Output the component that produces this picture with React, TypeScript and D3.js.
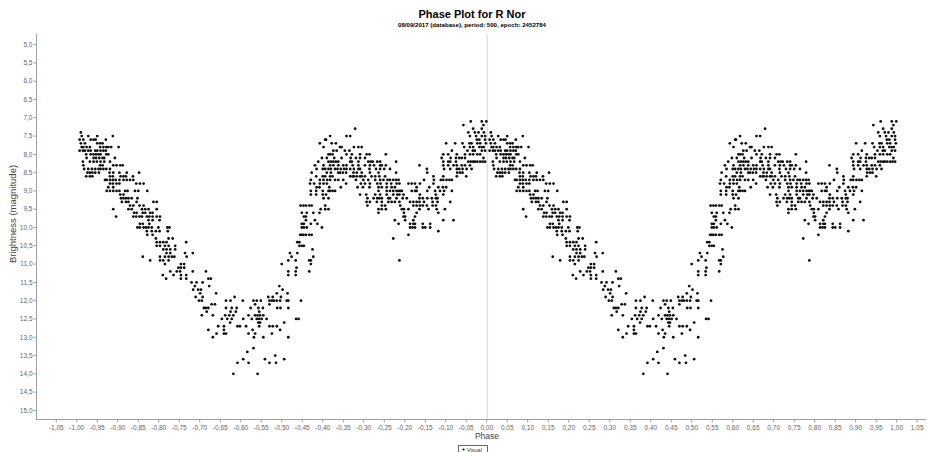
import React from 'react';
import * as d3 from 'd3';

// The phase plot draws every point twice: at its phase and at phase + 1.
const MAGNITUDES = [
  7.1, 7.2, 7.3, 7.4, 7.5, 7.6, 7.7, 7.8, 7.9, 8.0,
  8.1, 8.2, 8.3, 8.4, 8.5, 8.6, 8.7, 8.8, 8.9, 9.0,
  9.1, 9.2, 9.3, 9.4, 9.5, 9.6, 9.7, 9.8, 9.9, 10.0,
  10.1, 10.2, 10.3, 10.4, 10.5, 10.6, 10.7, 10.8, 10.9, 11.0,
  11.1, 11.2, 11.3, 11.4, 11.5, 11.6, 11.7, 11.8, 11.9, 12.0,
  12.1, 12.2, 12.3, 12.4, 12.5, 12.6, 12.7, 12.8, 12.9, 13.0,
  13.3, 13.4, 13.5, 13.6, 13.7, 14.0,
];

const PHASES_BY_MAG: number[][] = [
  /* 7.1 */ [-0.039, -0.012, -0.001],
  /* 7.2 */ [-0.057, -0.008],
  /* 7.3 */ [-0.321, -0.033, -0.012],
  /* 7.4 */ [-0.990, -0.045, -0.029, -0.020, -0.007],
  /* 7.5 */ [-0.988, -0.972, -0.950, -0.912, -0.382, -0.342, -0.333, -0.041, -0.026, -0.012, -0.004],
  /* 7.6 */ [-0.993, -0.984, -0.966, -0.959, -0.954, -0.929, -0.394, -0.392, -0.024, -0.018, -0.004],
  /* 7.7 */ [-0.990, -0.980, -0.950, -0.943, -0.937, -0.407, -0.378, -0.368, -0.099, -0.077, -0.059, -0.042, -0.037, -0.023, -0.016, -0.002],
  /* 7.8 */ [-0.988, -0.984, -0.976, -0.968, -0.943, -0.935, -0.928, -0.923, -0.916, -0.898, -0.398, -0.358, -0.354, -0.324, -0.313, -0.305, -0.055, -0.041, -0.033, -0.018, -0.012, -0.007],
  /* 7.9 */ [-0.993, -0.985, -0.980, -0.972, -0.966, -0.955, -0.950, -0.942, -0.935, -0.929, -0.374, -0.366, -0.346, -0.335, -0.085, -0.047, -0.034, -0.029, -0.012, -0.004],
  /* 8.0 */ [-0.977, -0.966, -0.959, -0.953, -0.947, -0.942, -0.928, -0.923, -0.386, -0.382, -0.376, -0.342, -0.329, -0.309, -0.293, -0.286, -0.246, -0.106, -0.094, -0.073, -0.053, -0.041, -0.033, -0.023, -0.016],
  /* 8.1 */ [-0.976, -0.959, -0.953, -0.945, -0.937, -0.933, -0.907, -0.402, -0.390, -0.372, -0.354, -0.332, -0.319, -0.309, -0.297, -0.110, -0.088, -0.075, -0.067, -0.061, -0.053, -0.008],
  /* 8.2 */ [-0.985, -0.968, -0.959, -0.951, -0.942, -0.933, -0.919, -0.411, -0.386, -0.380, -0.374, -0.368, -0.362, -0.333, -0.329, -0.313, -0.289, -0.283, -0.278, -0.267, -0.260, -0.221, -0.106, -0.094, -0.089, -0.075, -0.045, -0.039, -0.033, -0.029, -0.023, -0.016, -0.010, -0.004],
  /* 8.3 */ [-0.984, -0.943, -0.937, -0.911, -0.903, -0.894, -0.888, -0.419, -0.398, -0.382, -0.374, -0.362, -0.350, -0.342, -0.327, -0.313, -0.297, -0.285, -0.275, -0.260, -0.256, -0.246, -0.164, -0.106, -0.094, -0.081, -0.073, -0.061, -0.053, -0.041],
  /* 8.4 */ [-0.982, -0.972, -0.963, -0.955, -0.947, -0.942, -0.935, -0.928, -0.919, -0.415, -0.400, -0.394, -0.386, -0.380, -0.370, -0.364, -0.356, -0.348, -0.342, -0.333, -0.324, -0.313, -0.309, -0.286, -0.270, -0.260, -0.250, -0.236, -0.146, -0.104, -0.089, -0.073, -0.067, -0.059, -0.049, -0.037],
  /* 8.5 */ [-0.974, -0.968, -0.962, -0.955, -0.946, -0.920, -0.911, -0.896, -0.878, -0.848, -0.427, -0.390, -0.380, -0.362, -0.358, -0.351, -0.343, -0.325, -0.317, -0.305, -0.285, -0.264, -0.221, -0.145, -0.072, -0.065, -0.059],
  /* 8.6 */ [-0.977, -0.968, -0.962, -0.919, -0.912, -0.893, -0.886, -0.880, -0.863, -0.416, -0.400, -0.394, -0.382, -0.376, -0.333, -0.327, -0.324, -0.317, -0.309, -0.305, -0.297, -0.281, -0.272, -0.262, -0.248, -0.130, -0.106, -0.073, -0.050],
  /* 8.7 */ [-0.931, -0.927, -0.919, -0.912, -0.905, -0.896, -0.886, -0.878, -0.870, -0.862, -0.429, -0.407, -0.398, -0.389, -0.382, -0.370, -0.362, -0.350, -0.319, -0.301, -0.289, -0.272, -0.260, -0.252, -0.242, -0.236, -0.228, -0.221, -0.215, -0.153, -0.129, -0.112, -0.106, -0.098, -0.091, -0.085],
  /* 8.8 */ [-0.919, -0.912, -0.903, -0.896, -0.855, -0.846, -0.837, -0.431, -0.421, -0.407, -0.398, -0.390, -0.343, -0.307, -0.297, -0.285, -0.267, -0.259, -0.244, -0.233, -0.220, -0.213, -0.191, -0.183, -0.175, -0.163, -0.130],
  /* 8.9 */ [-0.923, -0.911, -0.415, -0.408, -0.384, -0.356, -0.315, -0.302, -0.286, -0.264, -0.256, -0.244, -0.232, -0.224, -0.171, -0.140, -0.118, -0.107, -0.099],
  /* 9.0 */ [-0.927, -0.919, -0.911, -0.903, -0.896, -0.882, -0.876, -0.858, -0.850, -0.828, -0.429, -0.416, -0.400, -0.386, -0.382, -0.376, -0.370, -0.264, -0.244, -0.236, -0.228, -0.220, -0.215, -0.211, -0.207, -0.183, -0.175, -0.171, -0.145, -0.126, -0.114, -0.104, -0.085],
  /* 9.1 */ [-0.894, -0.886, -0.429, -0.416, -0.400, -0.392, -0.309, -0.294, -0.272, -0.260, -0.244, -0.228, -0.218, -0.213, -0.203, -0.163, -0.124, -0.106],
  /* 9.2 */ [-0.892, -0.886, -0.880, -0.874, -0.866, -0.852, -0.398, -0.386, -0.291, -0.276, -0.267, -0.262, -0.256, -0.240, -0.236, -0.220, -0.205, -0.195, -0.164, -0.156, -0.145, -0.134, -0.124, -0.120],
  /* 9.3 */ [-0.890, -0.880, -0.874, -0.854, -0.813, -0.805, -0.293, -0.285, -0.268, -0.256, -0.240, -0.232, -0.224, -0.213, -0.187, -0.179, -0.171, -0.164, -0.153, -0.132, -0.120, -0.089],
  /* 9.4 */ [-0.870, -0.862, -0.847, -0.837, -0.454, -0.447, -0.441, -0.433, -0.427, -0.394, -0.291, -0.256, -0.248, -0.211, -0.179, -0.171, -0.163, -0.156, -0.146, -0.132, -0.124],
  /* 9.5 */ [-0.911, -0.874, -0.866, -0.841, -0.833, -0.825, -0.805, -0.405, -0.394, -0.386, -0.264, -0.256, -0.246, -0.207, -0.202, -0.191, -0.164, -0.142, -0.122, -0.102],
  /* 9.6 */ [-0.860, -0.854, -0.839, -0.833, -0.821, -0.815, -0.451, -0.439, -0.423, -0.408, -0.264, -0.202, -0.171, -0.118],
  /* 9.7 */ [-0.904, -0.862, -0.855, -0.847, -0.841, -0.829, -0.823, -0.815, -0.805, -0.797, -0.446, -0.441, -0.203, -0.199, -0.175],
  /* 9.8 */ [-0.825, -0.815, -0.798, -0.441, -0.419, -0.224, -0.199, -0.179, -0.106, -0.081],
  /* 9.9 */ [-0.846, -0.839, -0.823, -0.451, -0.446, -0.429, -0.413, -0.215, -0.187, -0.179, -0.175, -0.156, -0.138],
  /* 10.0 */ [-0.852, -0.846, -0.837, -0.831, -0.825, -0.817, -0.801, -0.779, -0.774, -0.451, -0.446, -0.439, -0.402, -0.187, -0.181, -0.175, -0.156, -0.150, -0.138],
  /* 10.1 */ [-0.829, -0.817, -0.807, -0.798, -0.778, -0.118],
  /* 10.2 */ [-0.828, -0.815, -0.455, -0.451, -0.447, -0.441, -0.433, -0.427, -0.191],
  /* 10.3 */ [-0.807, -0.776, -0.766, -0.228],
  /* 10.4 */ [-0.805, -0.797, -0.789, -0.781, -0.733, -0.462, -0.457],
  /* 10.5 */ [-0.805, -0.797, -0.785, -0.776, -0.760, -0.457, -0.451, -0.446],
  /* 10.6 */ [-0.789, -0.781, -0.772, -0.760, -0.425],
  /* 10.7 */ [-0.781, -0.772, -0.736, -0.717, -0.480, -0.462],
  /* 10.8 */ [-0.839, -0.797, -0.785, -0.776, -0.768, -0.762, -0.732, -0.476, -0.423],
  /* 10.9 */ [-0.821, -0.797, -0.789, -0.776, -0.484, -0.466, -0.433, -0.429, -0.213],
  /* 11.0 */ [-0.785, -0.746, -0.738, -0.500, -0.429],
  /* 11.1 */ [-0.752, -0.746, -0.738, -0.464],
  /* 11.2 */ [-0.772, -0.756, -0.748, -0.717, -0.685, -0.484, -0.466, -0.433],
  /* 11.3 */ [-0.790, -0.764, -0.746, -0.733, -0.484, -0.466],
  /* 11.4 */ [-0.782, -0.746, -0.733, -0.679, -0.673],
  /* 11.5 */ [-0.720, -0.708, -0.693],
  /* 11.6 */ [-0.712, -0.677, -0.506],
  /* 11.7 */ [-0.716, -0.704, -0.697, -0.498],
  /* 11.8 */ [-0.699, -0.660, -0.512, -0.486],
  /* 11.9 */ [-0.710, -0.693, -0.615, -0.533, -0.522, -0.502],
  /* 12.0 */ [-0.702, -0.695, -0.636, -0.625, -0.595, -0.569, -0.561, -0.551, -0.530, -0.524, -0.519, -0.512, -0.504, -0.488, -0.484, -0.453],
  /* 12.1 */ [-0.671, -0.663, -0.565, -0.530],
  /* 12.2 */ [-0.690, -0.685, -0.679, -0.636, -0.622, -0.610, -0.576, -0.557, -0.546, -0.511, -0.503, -0.484],
  /* 12.3 */ [-0.683, -0.625, -0.612, -0.555],
  /* 12.4 */ [-0.695, -0.668, -0.638, -0.628, -0.618, -0.581, -0.565, -0.559, -0.553, -0.545],
  /* 12.5 */ [-0.646, -0.633, -0.622, -0.594, -0.573, -0.561, -0.555, -0.549, -0.537, -0.465, -0.459],
  /* 12.6 */ [-0.626, -0.557, -0.553, -0.494],
  /* 12.7 */ [-0.655, -0.641, -0.608, -0.602, -0.587, -0.555, -0.530, -0.522, -0.512],
  /* 12.8 */ [-0.679, -0.641, -0.571, -0.504],
  /* 12.9 */ [-0.659, -0.641, -0.636, -0.581, -0.565, -0.524],
  /* 13.0 */ [-0.668, -0.568, -0.545, -0.484],
  /* 13.3 */ [-0.569],
  /* 13.4 */ [-0.584],
  /* 13.5 */ [-0.516],
  /* 13.6 */ [-0.594, -0.541, -0.494],
  /* 13.7 */ [-0.608, -0.581, -0.530, -0.514],
  /* 14.0 */ [-0.618, -0.559],
];

const X_TICKS = [
  -1.05, -1.0, -0.95, -0.9, -0.85, -0.8, -0.75, -0.7, -0.65, -0.6, -0.55,
  -0.5, -0.45, -0.4, -0.35, -0.3, -0.25, -0.2, -0.15, -0.1, -0.05, 0,
  0.05, 0.1, 0.15, 0.2, 0.25, 0.3, 0.35, 0.4, 0.45, 0.5, 0.55, 0.6,
  0.65, 0.7, 0.75, 0.8, 0.85, 0.9, 0.95, 1.0, 1.05,
];
const Y_TICKS = [
  5.0, 5.5, 6.0, 6.5, 7.0, 7.5, 8.0, 8.5, 9.0, 9.5, 10.0,
  10.5, 11.0, 11.5, 12.0, 12.5, 13.0, 13.5, 14.0, 14.5, 15.0,
];

const W = 928;
const H = 452;
const PLOT = { left: 37, right: 926, top: 34, bottom: 419 };
const FONT = '"Liberation Sans", Arial, sans-serif';

const fmtX = (v: number) => (v < -1e-9 ? '-' : '') + Math.abs(v).toFixed(2).replace('.', ',');
const fmtY = (v: number) => v.toFixed(1).replace('.', ',');

export default function App() {
  const x = d3.scaleLinear().domain([-1.097, 1.0715]).range([PLOT.left, PLOT.right]);
  const y = d3.scaleLinear().domain([4.71, 15.235]).range([PLOT.top, PLOT.bottom]);

  const points = MAGNITUDES.flatMap((mag, i) =>
    PHASES_BY_MAG[i].flatMap((p) => [
      { phase: p, mag },
      { phase: p + 1, mag },
    ])
  );

  const titleX = 472;

  return (
    <div style={{ position: 'fixed', left: 0, top: 0 }}>
      <svg width={W} height={H} style={{ display: 'block', background: '#fff' }} fontFamily={FONT}>
        {/* titles */}
        <text x={titleX} y={18.3} textAnchor="middle" fontSize={11} fontWeight="bold" fill="#000">
          Phase Plot for R Nor
        </text>
        <text
          x={titleX}
          y={26.7}
          textAnchor="middle"
          fontSize={6.2}
          fontWeight="bold"
          fill="#000"
          textLength={148}
          lengthAdjust="spacingAndGlyphs"
        >
          08/09/2017 (database), period: 500, epoch: 2452784
        </text>

        {/* zero phase marker */}
        <line x1={x(0) + 0.5} x2={x(0) + 0.5} y1={PLOT.top} y2={PLOT.bottom} stroke="#d0d0f4" strokeWidth={1} />

        {/* axes */}
        <line x1={PLOT.left - 0.5} x2={PLOT.left - 0.5} y1={PLOT.top} y2={PLOT.bottom + 1} stroke="#a0a0a0" />
        <line x1={PLOT.left - 0.5} x2={PLOT.right} y1={PLOT.bottom + 0.5} y2={PLOT.bottom + 0.5} stroke="#a0a0a0" />

        {Y_TICKS.map((t) => (
          <g key={`y${t}`} transform={`translate(0,${y(t)})`}>
            <line x1={PLOT.left - 3.5} x2={PLOT.left - 0.5} stroke="#a0a0a0" />
            <text x={PLOT.left - 4.5} dy="0.35em" textAnchor="end" fontSize={6.5} fill="#666">
              {fmtY(t)}
            </text>
          </g>
        ))}
        {X_TICKS.map((t) => (
          <g key={`x${t}`} transform={`translate(${x(t)},0)`}>
            <line y1={PLOT.bottom + 0.5} y2={PLOT.bottom + 3.5} stroke="#a0a0a0" />
            <text y={429.6} textAnchor="middle" fontSize={6.5} fill="#666">
              {fmtX(t)}
            </text>
          </g>
        ))}

        <text x={487} y={439} textAnchor="middle" fontSize={8.5} fill="#444">
          Phase
        </text>
        <text
          transform={`translate(16,214) rotate(-90)`}
          textAnchor="middle"
          fontSize={9.5}
          fill="#444"
        >
          Brightness (magnitude)
        </text>

        {/* observations */}
        <g fill="#111">
          {points.map((d, i) => (
            <circle key={i} cx={x(d.phase)} cy={y(d.mag)} r={1.4} />
          ))}
        </g>

        {/* legend */}
        <rect x={458.5} y={445.5} width={29} height={12} fill="#fff" stroke="#666" />
        <circle cx={463.5} cy={449.5} r={1.1} fill="#111" />
        <text x={467} y={451.5} fontSize={5.5} fill="#333">
          Visual
        </text>
      </svg>
    </div>
  );
}
